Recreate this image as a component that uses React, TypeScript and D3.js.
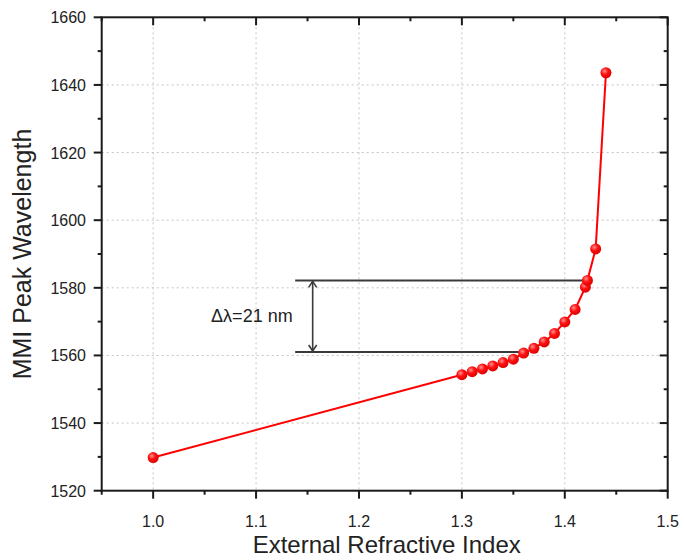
import React from "react";
import * as d3 from "d3";

const refractiveIndex = [1.0, 1.3, 1.31, 1.32, 1.33, 1.34, 1.35, 1.36, 1.37, 1.38, 1.39, 1.4, 1.41, 1.42, 1.422, 1.43, 1.44];
const peakWavelength = [1529.8, 1554.3, 1555.2, 1556.0, 1556.9, 1557.9, 1558.9, 1560.7, 1562.1, 1564.0, 1566.5, 1569.9, 1573.6, 1580.2, 1582.2, 1591.5, 1643.6];

const xMajorTicks = [1.0, 1.1, 1.2, 1.3, 1.4, 1.5];
const xMinorTicks = [0.95, 1.05, 1.15, 1.25, 1.35, 1.45];
const yMajorTicks = [1520, 1540, 1560, 1580, 1600, 1620, 1640, 1660];
const yMinorTicks = [1530, 1550, 1570, 1590, 1610, 1630, 1650];
const xGrid = [1.0, 1.1, 1.2, 1.3, 1.4];
const yGrid = [1540, 1560, 1580, 1600, 1620, 1640];

const annUpper = 1582.2;
const annLower = 1561.0;
const annStartX = 1.138;
const annUpperEndX = 1.421;
const annLowerEndX = 1.361;
const annArrowX = 1.155;
const annText = "Δλ=21 nm";

const xTitle = "External Refractive Index";
const yTitle = "MMI Peak Wavelength";

export default function App() {
  const W = 684, H = 560;
  const left = 101.7, right = 667.7, top = 17.3, bottom = 490.7;
  const x = d3.scaleLinear().domain([0.95, 1.5]).range([left, right]);
  const y = d3.scaleLinear().domain([1520, 1660]).range([bottom, top]);
  const pts = refractiveIndex.map((v, i) => [v, peakWavelength[i]] as [number, number]);
  const line = d3.line<[number, number]>().x(d => x(d[0])).y(d => y(d[1]));
  const font = "'Liberation Sans', Arial, sans-serif";
  const axisColor = "#1a1a1a";
  const annColor = "#3a3a3a";
  const major = 8, minor = 4;
  const ax = x(annArrowX), yu = y(annUpper), yl = y(annLower);
  const ah = 7, aw = 4;

  return (
    <svg width={W} height={H} style={{ position: "absolute", left: 0, top: 0, background: "#fff" }}>
      <defs>
        <radialGradient id="ball" cx="0.38" cy="0.35" r="0.7">
          <stop offset="0" stopColor="#ff9090" />
          <stop offset="0.45" stopColor="#ff1010" />
          <stop offset="1" stopColor="#d80000" />
        </radialGradient>
      </defs>
      {/* grid */}
      {xGrid.map(v => (
        <line key={"gx" + v} x1={x(v)} x2={x(v)} y1={top} y2={bottom} stroke="#c4c4c4" strokeWidth={1} strokeDasharray="2,3" />
      ))}
      {yGrid.map(v => (
        <line key={"gy" + v} x1={left} x2={right} y1={y(v)} y2={y(v)} stroke="#c4c4c4" strokeWidth={1} strokeDasharray="2,3" />
      ))}
      {/* annotation */}
      <line x1={x(annStartX)} x2={x(annUpperEndX)} y1={yu} y2={yu} stroke={annColor} strokeWidth={2} />
      <line x1={x(annStartX)} x2={x(annLowerEndX)} y1={yl} y2={yl} stroke={annColor} strokeWidth={2} />
      <line x1={ax} x2={ax} y1={yu + 1} y2={yl - 1} stroke={annColor} strokeWidth={1.6} />
      <path d={`M${ax - aw},${yu + ah} L${ax},${yu + 1} L${ax + aw},${yu + ah}`} fill="none" stroke={annColor} strokeWidth={1.6} />
      <path d={`M${ax - aw},${yl - ah} L${ax},${yl - 1} L${ax + aw},${yl - ah}`} fill="none" stroke={annColor} strokeWidth={1.6} />
      <text x={ax - 20} y={(yu + yl) / 2 + 6} textAnchor="end" fontFamily={font} fontSize={18} fill="#222">{annText}</text>
      {/* data */}
      <path d={line(pts) || ""} fill="none" stroke="#ff0000" strokeWidth={2} />
      {pts.map((d, i) => (
        <circle key={i} cx={x(d[0])} cy={y(d[1])} r={5.5} fill="url(#ball)" />
      ))}
      {/* frame */}
      <rect x={left} y={top} width={right - left} height={bottom - top} fill="none" stroke={axisColor} strokeWidth={2} />
      {/* bottom ticks (outward) & top ticks (inward) */}
      {xMajorTicks.map(v => (
        <g key={"xm" + v}>
          <line x1={x(v)} x2={x(v)} y1={bottom} y2={bottom + major} stroke={axisColor} strokeWidth={2} />
          <line x1={x(v)} x2={x(v)} y1={top} y2={top + major} stroke={axisColor} strokeWidth={2} />
          <text x={x(v)} y={527} textAnchor="middle" fontFamily={font} fontSize={16} fill="#222">{v.toFixed(1)}</text>
        </g>
      ))}
      {xMinorTicks.map(v => (
        <g key={"xn" + v}>
          <line x1={x(v)} x2={x(v)} y1={bottom} y2={bottom + minor} stroke={axisColor} strokeWidth={2} />
          <line x1={x(v)} x2={x(v)} y1={top} y2={top + minor} stroke={axisColor} strokeWidth={2} />
        </g>
      ))}
      {/* left ticks (outward) & right ticks (inward) */}
      {yMajorTicks.map(v => (
        <g key={"ym" + v}>
          <line x1={left - major} x2={left} y1={y(v)} y2={y(v)} stroke={axisColor} strokeWidth={2} />
          <line x1={right - major} x2={right} y1={y(v)} y2={y(v)} stroke={axisColor} strokeWidth={2} />
          <text x={86} y={y(v) + 6} textAnchor="end" fontFamily={font} fontSize={16} fill="#222">{v}</text>
        </g>
      ))}
      {yMinorTicks.map(v => (
        <g key={"yn" + v}>
          <line x1={left - minor} x2={left} y1={y(v)} y2={y(v)} stroke={axisColor} strokeWidth={2} />
          <line x1={right - minor} x2={right} y1={y(v)} y2={y(v)} stroke={axisColor} strokeWidth={2} />
        </g>
      ))}
      {/* titles */}
      <text x={(left + right) / 2 + 2} y={553} textAnchor="middle" fontFamily={font} fontSize={24} fill="#222">{xTitle}</text>
      <text transform={`translate(31,${(top + bottom) / 2}) rotate(-90)`} textAnchor="middle" fontFamily={font} fontSize={25} fill="#222">{yTitle}</text>
    </svg>
  );
}
